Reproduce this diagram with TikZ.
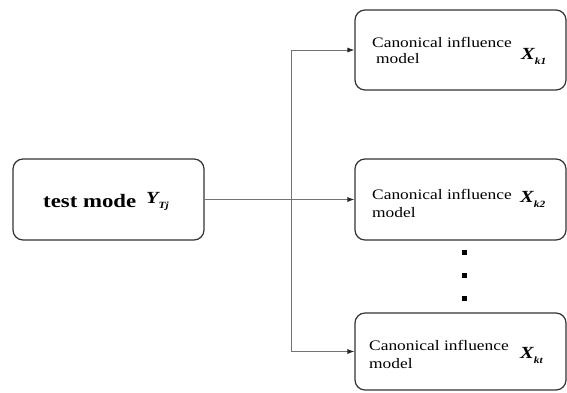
\documentclass[tikz,border=0pt]{standalone}
\usepackage{fontspec}
\setmainfont{Liberation Serif}[FakeStretch=1.2]
\usetikzlibrary{arrows.meta}
\tikzset{
  box/.style={draw=black!80, line width=1.2pt, rounded corners=10pt, inner sep=0pt},
  conn/.style={draw=black!55, line width=0.8pt},
  arr/.style={conn, -{Latex[length=7pt,width=5pt,black!85]}},
  lbl/.style={anchor=base west, inner sep=0pt, font=\fontsize{14.5}{16}\selectfont},
  var/.style={anchor=base west, inner sep=0pt, font=\fontsize{17}{18}\selectfont\bfseries\itshape},
}
\newcommand{\subx}[1]{\raisebox{-5pt}{\fontsize{9.5}{9.5}\selectfont\bfseries\itshape #1}}
\begin{document}
\begin{tikzpicture}[x=1pt,y=-1pt]
\useasboundingbox (0,0) rectangle (567,392);
% boxes
\node[box, minimum width=191pt, minimum height=81pt] (L) at (108.5,199.5) {};
\node[box, minimum width=211pt, minimum height=80pt] (B1) at (460.5,50) {};
\node[box, minimum width=211pt, minimum height=81pt] (B2) at (460.5,199.5) {};
\node[box, minimum width=211pt, minimum height=77pt] (B3) at (460.5,351.5) {};
% texts
\node[lbl, font=\fontsize{19}{21}\selectfont\bfseries] (tL) at (43,207) {test mode};
\node[var] (yL) at (146,203) {Y\subx{Tj}};
\node[lbl] (t1a) at (372,47) {Canonical influence};
\node[lbl] (t1b) at (376,63) {model};
\node[var] (x1) at (521,59) {X\subx{k1}};
\node[lbl] (t2a) at (372,199) {Canonical influence};
\node[lbl] (t2b) at (372,217) {model};
\node[var] (x2) at (520,202) {X\subx{k2}};
\node[lbl] (t3a) at (369,350) {Canonical influence};
\node[lbl] (t3b) at (369,368) {model};
\node[var] (x3) at (520,358) {X\subx{kt}};
% connectors
\coordinate (J) at (291,199.5);
\draw[conn] (L.east) -- (J);
\draw[arr] (J) -- (B2.west);
\draw[arr] (J) |- (B1.west);
\draw[arr] (J) |- (B3.west);
% dots
\foreach \yy in {252,275,298} \fill[black] (461.5,\yy-2.5) rectangle (466.5,\yy+2.5);
\end{tikzpicture}
\end{document}
